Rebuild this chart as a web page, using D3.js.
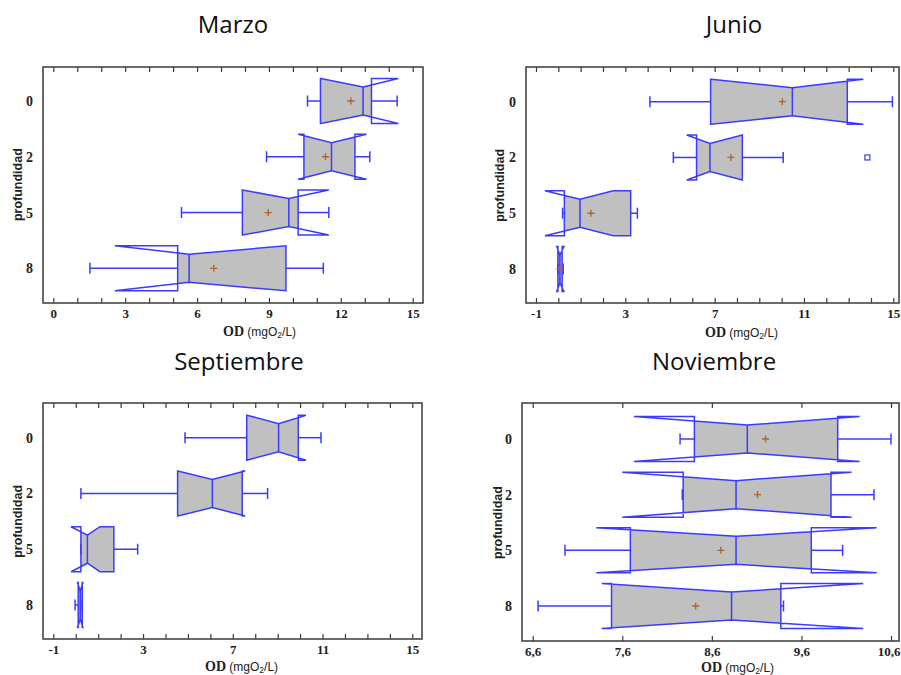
<!DOCTYPE html>
<html>
<head>
<meta charset="utf-8">
<script src="https://cdn.jsdelivr.net/npm/d3@7"></script>
<style>
  html, body { margin: 0; padding: 0; background: #fff; }
  svg { display: block; }
</style>
</head>
<body>
<svg id="chart" width="901" height="675"></svg>
<script>
// Depth levels (m) on the vertical axis
const depths = ["0", "2", "5", "8"];
const months = ["Marzo", "Junio", "Septiembre", "Noviembre"];

// Marzo: whiskers, quartiles, median, notch limits, mean (mgO2/L)
const marzoLow        = [10.61, 8.90, 5.35, 1.53];
const marzoQ1         = [11.15, 10.46, 7.89, 5.19];
const marzoMedian     = [12.93, 11.61, 9.83, 5.67];
const marzoQ3         = [13.28, 12.59, 10.22, 9.71];
const marzoHigh       = [14.35, 13.21, 11.50, 11.27];
const marzoNotchLow   = [11.17, 10.22, 7.90, 2.57];
const marzoNotchHigh  = [14.40, 13.07, 11.50, 9.71];
const marzoMean       = [12.42, 11.36, 8.97, 6.70];

// Junio
const junioLow        = [4.10, 5.15, 0.19, -0.02];
const junioQ1         = [6.82, 6.19, 0.27, -0.02];
const junioMedian     = [10.48, 6.79, 0.97, 0.07];
const junioQ3         = [12.94, 8.24, 3.24, 0.17];
const junioHigh       = [14.96, 10.07, 3.54, 0.22];
const junioNotchLow   = [6.84, 5.75, -0.60, -0.07];
const junioNotchHigh  = [13.66, 8.24, 2.46, 0.25];
const junioMean       = [10.03, 7.73, 1.46, 0.07];
const junioOutlierDepth = ["2"];
const junioOutlierValue = [13.84];

// Septiembre (no mean markers)
const septLow         = [4.87, 0.23, 0.23, -0.03];
const septQ1          = [7.62, 4.54, 0.23, 0.11];
const septMedian      = [9.04, 6.09, 0.52, 0.20];
const septQ3          = [9.92, 7.42, 1.70, 0.29];
const septHigh        = [10.93, 8.55, 2.76, 0.29];
const septNotchLow    = [7.63, 4.55, -0.21, 0.08];
const septNotchHigh   = [10.26, 7.55, 1.08, 0.32];

// Noviembre
const novLow          = [8.245, 8.27, 6.96, 6.66];
const novQ1           = [8.405, 8.28, 7.69, 7.48];
const novMedian       = [8.996, 8.87, 8.87, 8.82];
const novQ3           = [10.005, 9.93, 9.71, 9.37];
const novHigh         = [10.60, 10.41, 10.06, 9.40];
const novNotchLow     = [7.73, 7.60, 7.31, 7.37];
const novNotchHigh    = [10.25, 10.16, 10.44, 10.29];
const novMean         = [9.20, 9.11, 8.70, 8.42];

// Axis ticks
const marzoTicks  = d3.range(0, 16, 1);
const marzoLabels = [0, 3, 6, 9, 12, 15];
const junioTicks  = d3.range(-1, 16, 1);
const junioLabels = [-1, 3, 7, 11, 15];
const septTicks   = d3.range(-1, 16, 1);
const septLabels  = [-1, 3, 7, 11, 15];
const novTicks    = [6.6, 7.6, 8.6, 9.6, 10.6];
const novLabels   = [6.6, 7.6, 8.6, 9.6, 10.6];

const BLUE = "#3b3bff";
const GRAY = "#c0c0c0";
const MEAN_COLOR = "#b0602a";
const FRAME = "#3a3a3a";
const WIDTH = 901;

const svg = d3.select("#chart");

const intFmt = d => String(d);  // plain hyphen for negatives

const panels = [
  { title: months[0], low: marzoLow, q1: marzoQ1, med: marzoMedian, q3: marzoQ3, high: marzoHigh,
    nL: marzoNotchLow, nH: marzoNotchHigh, mean: marzoMean, ticks: marzoTicks, labels: marzoLabels,
    domain: [0, 15], range: [53.3, 412.7], rows: [101, 268.3], frame: [43, 67, 423, 303],
    titleX: 233, titleY: 33, xTitleX: 223, xTitleY: 336, yTitleX: 18, fmt: intFmt },
  { title: months[1], low: junioLow, q1: junioQ1, med: junioMedian, q3: junioQ3, high: junioHigh,
    nL: junioNotchLow, nH: junioNotchHigh, mean: junioMean, ticks: junioTicks, labels: junioLabels,
    outDepth: junioOutlierDepth, outValue: junioOutlierValue,
    domain: [-1, 15], range: [536, 893.3], rows: [101.7, 269], frame: [526, 67, 899, 303],
    titleX: 734, titleY: 33, xTitleX: 705, xTitleY: 337, yTitleX: 500, fmt: intFmt },
  { title: months[2], low: septLow, q1: septQ1, med: septMedian, q3: septQ3, high: septHigh,
    nL: septNotchLow, nH: septNotchHigh, mean: null, ticks: septTicks, labels: septLabels,
    domain: [-1, 15], range: [53.3, 412.3], rows: [437.7, 605], frame: [43, 403, 422, 639],
    titleX: 239, titleY: 370, xTitleX: 205, xTitleY: 671, yTitleX: 18, fmt: intFmt },
  { title: months[3], low: novLow, q1: novQ1, med: novMedian, q3: novQ3, high: novHigh,
    nL: novNotchLow, nH: novNotchHigh, mean: novMean, ticks: novTicks, labels: novLabels,
    domain: [6.6, 10.6], range: [532.7, 891], rows: [439, 606], frame: [522, 403, 899, 641],
    titleX: 714, titleY: 370, xTitleX: 701, xTitleY: 672, yTitleX: 498, fmt: d => d3.format(".1f")(d).replace(".", ",") }
];

const HALF = 22.5;     // half height of each box
const INDENT = 8.5;    // notch depth at the median
const CAP = 5.5;       // whisker cap half height

panels.forEach((p, pi) => {
  const g = svg.append("g");
  const x = d3.scaleLinear().domain(p.domain).range(p.range);
  const y = d3.scalePoint().domain(depths).range(p.rows);
  const [fx0, fy0, fx1, fy1] = p.frame;

  // Title
  g.append("text")
    .attr("x", p.titleX).attr("y", p.titleY)
    .attr("text-anchor", "middle")
    .style("font-family", "'Open Sans', 'Noto Sans', sans-serif")
    .style("font-size", "24px")
    .attr("fill", "#111")
    .text(p.title);

  // Bottom axis: inward ticks, labels on selected values
  const labelSet = new Set(p.labels.map(v => +v.toFixed(3)));
  const bottom = d3.axisBottom(x)
    .tickValues(p.ticks)
    .tickSizeInner(-5).tickSizeOuter(0).tickPadding(6)
    .tickFormat(d => labelSet.has(+d.toFixed(3)) ? p.fmt(d) : "");
  const gb = g.append("g").attr("transform", `translate(0,${fy1})`).call(bottom);
  gb.select(".domain").remove();
  gb.selectAll("line").attr("stroke", FRAME).attr("stroke-width", 1.2);
  gb.selectAll("text")
    .style("font-family", "'Liberation Serif', 'Times New Roman', serif")
    .style("font-weight", "bold").style("font-size", "13px").attr("fill", "#222");
  // keep labels near the right edge inside the page
  gb.selectAll(".tick").each(function (d) {
    const txt = d3.select(this).select("text");
    const node = txt.node();
    if (!node || !node.textContent) return;
    const w = node.getComputedTextLength();
    const over = x(d) + w / 2 - (WIDTH - 1);
    if (over > 0) txt.attr("dx", -over);
  });

  // Top axis: inward ticks only
  const top = d3.axisTop(x).tickValues(p.ticks).tickSizeInner(-5).tickSizeOuter(0).tickFormat("");
  const gt = g.append("g").attr("transform", `translate(0,${fy0})`).call(top);
  gt.select(".domain").remove();
  gt.selectAll("line").attr("stroke", FRAME).attr("stroke-width", 1.2);

  // Left axis labels (depths)
  const left = d3.axisLeft(y).tickSize(0).tickPadding(10);
  const gl = g.append("g").attr("transform", `translate(${fx0},0)`).call(left);
  gl.select(".domain").remove();
  gl.selectAll("text")
    .style("font-family", "'Liberation Serif', 'Times New Roman', serif")
    .style("font-weight", "bold").style("font-size", "14px").attr("fill", "#222");

  // Frame
  g.append("rect")
    .attr("x", fx0).attr("y", fy0).attr("width", fx1 - fx0).attr("height", fy1 - fy0)
    .attr("fill", "none").attr("stroke", FRAME).attr("stroke-width", 1.5);

  // Axis titles
  const xt = g.append("text").attr("x", p.xTitleX).attr("y", p.xTitleY).attr("fill", "#222");
  xt.append("tspan").text("OD")
    .style("font-family", "'Liberation Serif', 'Times New Roman', serif")
    .style("font-weight", "bold").style("font-size", "14px");
  xt.append("tspan").text(" (mgO")
    .style("font-family", "'Liberation Sans', Arial, sans-serif").style("font-size", "12px");
  xt.append("tspan").text("2").attr("dy", 2)
    .style("font-family", "'Liberation Sans', Arial, sans-serif").style("font-size", "8.5px");
  xt.append("tspan").text("/L)").attr("dy", -2)
    .style("font-family", "'Liberation Sans', Arial, sans-serif").style("font-size", "12px");

  const yMid = (p.rows[0] + p.rows[1]) / 2;
  g.append("text")
    .attr("transform", `translate(${p.yTitleX + 4},${yMid}) rotate(-90)`)
    .attr("text-anchor", "middle")
    .style("font-family", "'Liberation Sans', Arial, sans-serif")
    .style("font-weight", "bold").style("font-size", "12.5px")
    .attr("fill", "#222")
    .text("profundidad");

  // Boxes
  depths.forEach((dep, i) => {
    const cy = y(dep);
    const xq1 = x(p.q1[i]), xq3 = x(p.q3[i]), xm = x(p.med[i]);
    const xnl = x(p.nL[i]), xnh = x(p.nH[i]);
    const t = cy - HALF, b = cy + HALF;

    const path = d3.path();
    path.moveTo(xq1, t);
    path.lineTo(xnl, t);
    path.lineTo(xm, t + INDENT);
    path.lineTo(xnh, t);
    path.lineTo(xq3, t);
    path.lineTo(xq3, b);
    path.lineTo(xnh, b);
    path.lineTo(xm, b - INDENT);
    path.lineTo(xnl, b);
    path.lineTo(xq1, b);
    path.closePath();

    const clipId = `clip-${pi}-${i}`;
    g.append("clipPath").attr("id", clipId)
      .append("rect")
      .attr("x", Math.min(xq1, xq3)).attr("y", t - 2)
      .attr("width", Math.abs(xq3 - xq1)).attr("height", 2 * HALF + 4);

    g.append("path").attr("d", path.toString())
      .attr("fill", GRAY).attr("stroke", "none")
      .attr("clip-path", `url(#${clipId})`);

    // Whiskers and median
    const xl = x(p.low[i]), xh = x(p.high[i]);
    const wg = g.append("g").attr("class", "whisker");
    wg.append("line").attr("x1", xl).attr("x2", xq1).attr("y1", cy).attr("y2", cy);
    wg.append("line").attr("x1", xq3).attr("x2", xh).attr("y1", cy).attr("y2", cy);
    wg.append("line").attr("x1", xl).attr("x2", xl).attr("y1", cy - CAP).attr("y2", cy + CAP);
    wg.append("line").attr("x1", xh).attr("x2", xh).attr("y1", cy - CAP).attr("y2", cy + CAP);
    wg.append("line").attr("x1", xm).attr("x2", xm)
      .attr("y1", t + INDENT).attr("y2", b - INDENT);
    wg.selectAll("line").attr("stroke", BLUE).attr("stroke-width", 1.5);

    // Notched outline
    g.append("path").attr("d", path.toString())
      .attr("fill", "none").attr("stroke", BLUE).attr("stroke-width", 1.5)
      .attr("stroke-linejoin", "miter");

    // Mean marker
    if (p.mean) {
      const mx = x(p.mean[i]);
      g.append("path")
        .attr("d", `M${mx - 3.5},${cy}H${mx + 3.5}M${mx},${cy - 3.5}V${cy + 3.5}`)
        .attr("stroke", MEAN_COLOR).attr("stroke-width", 1.3).attr("fill", "none");
    }
  });

  // Outliers
  if (p.outDepth) {
    p.outDepth.forEach((dep, k) => {
      g.append("rect")
        .attr("x", x(p.outValue[k]) - 2.5).attr("y", y(dep) - 2.5)
        .attr("width", 5).attr("height", 5)
        .attr("fill", "#fff").attr("stroke", BLUE).attr("stroke-width", 1.2);
    });
  }
});
</script>
</body>
</html>
